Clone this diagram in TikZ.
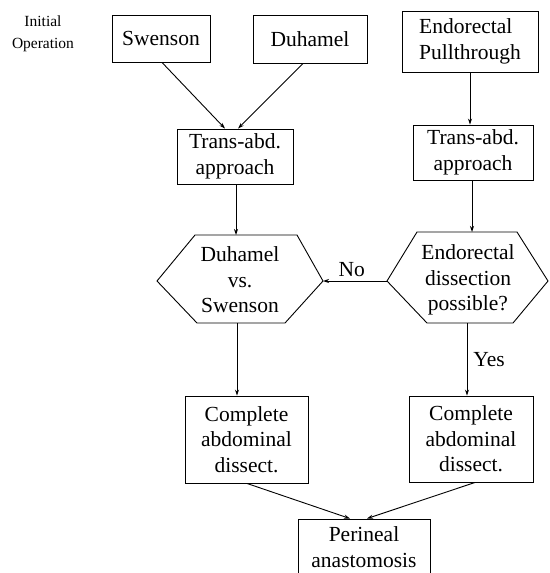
\documentclass[tikz,border=0pt]{standalone}
\usepackage{fontspec}
\setmainfont{Liberation Serif}
\newfontfamily\diagfont{Liberation Serif}
\usetikzlibrary{arrows.meta,calc}
\begin{document}
\begin{tikzpicture}[x=1pt,y=-1pt,
  line width=0.9pt,
  box/.style={draw,inner sep=0pt,align=center,font=\diagfont\fontsize{21.5}{25.5}\selectfont},
  plain/.style={inner sep=0pt,align=center,font=\diagfont\fontsize{21.5}{25.5}\selectfont},
  arr/.style={-{Stealth[length=6pt,width=4pt]}}]
\clip (0,0) rectangle (549,573);
\useasboundingbox (0,0) rectangle (549,573);
% side label
\node[inner sep=0pt,align=center,font=\diagfont\fontsize{15.5}{22}\selectfont] (init) at (43,34) {Initial\\Operation};
% boxes
\node[box,minimum width=98,minimum height=47] (sw) at (161,38.5) {Swenson};
\node[box,minimum width=114,minimum height=48] (du) at (310,39) {Duhamel};
\node[box,minimum width=136,minimum height=61,align=left] (er) at (470,41.5) {Endorectal\\Pullthrough};
\node[box,minimum width=116,minimum height=55] (tl) at (235,156.5) {Trans-abd.\\approach};
\node[box,minimum width=120,minimum height=55] (tr) at (473,152.5) {Trans-abd.\\approach};
\node[box,minimum width=123,minimum height=87] (cl) at (246.5,439.5) {Complete\\abdominal\\dissect.};
\node[box,minimum width=124,minimum height=86] (cr) at (471,439) {Complete\\abdominal\\dissect.};
\node[box,minimum width=132,minimum height=56] (pe) at (364,547) {Perineal\\anastomosis};
% hexagons
\node[plain] (hl) at (240,280) {Duhamel\\vs.\\Swenson};
\coordinate (hlw) at (157,281);
\coordinate (hltl) at (195,235);
\coordinate (hltr) at (297,235);
\coordinate (hle) at (323,281);
\coordinate (hlbr) at (285,323);
\coordinate (hlbl) at (197,323);
\coordinate (hlt) at (236,235);
\coordinate (hlb) at (237,323);
\draw (hlw) -- (hltl) -- (hltr) -- (hle) -- (hlbr) -- (hlbl) -- cycle;
\node[plain] (hr) at (468,280) {Endorectal\\dissection\\possible?};
\coordinate (hrw) at (387,281);
\coordinate (hrtl) at (417,232);
\coordinate (hrtr) at (517,232);
\coordinate (hre) at (548,281);
\coordinate (hrbr) at (513,323);
\coordinate (hrbl) at (427,323);
\coordinate (hrt) at (472,232);
\coordinate (hrb) at (467,323);
\draw (hrw) -- (hrtl) -- (hrtr) -- (hre) -- (hrbr) -- (hrbl) -- cycle;
% connectors
\draw[arr] ($(sw.south)+(1,0)$) -- ($(tl.north)+(-10,0)$);
\draw[arr] ($(du.south)+(-7,0)$) -- ($(tl.north)+(3,0)$);
\draw[arr] (er.south) -- (er.south |- tr.north);
\draw[arr] ($(tl.south)+(1,0)$) -- (hlt);
\draw[arr] ($(tr.south)+(-1,0)$) -- (hrt);
\draw[arr] (hrw) -- node[plain,above=4pt,pos=0.55] (no) {No} (hle);
\draw[arr] (hlb) -- (hlb |- cl.north);
\draw[arr] (hrb) -- node[plain,right=6pt,pos=0.5] (yes) {Yes} (hrb |- cr.north);
\draw[arr] ($(cl.south)+(0.5,0)$) -- ($(pe.north)+(-14,0)$);
\draw[arr] ($(cr.south)+(4,0)$) -- ($(pe.north)+(3,0)$);
\end{tikzpicture}
\end{document}
